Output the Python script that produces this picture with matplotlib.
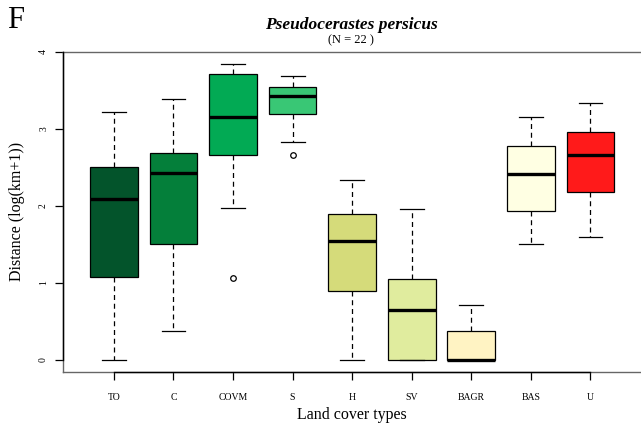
import matplotlib
matplotlib.use("Agg")
import matplotlib.pyplot as plt

categories = ["TO", "C", "COVM", "S", "H", "SV", "BAGR", "BAS", "U"]
whislo = [0.00, 0.38, 1.97, 2.83, 0.00, 0.00, 0.00, 1.50, 1.60]
q1     = [1.08, 1.50, 2.66, 3.20, 0.90, 0.00, 0.00, 1.94, 2.18]
med    = [2.09, 2.43, 3.15, 3.43, 1.55, 0.65, 0.00, 2.41, 2.66]
q3     = [2.50, 2.69, 3.72, 3.54, 1.89, 1.05, 0.38, 2.78, 2.96]
whishi = [3.22, 3.39, 3.84, 3.69, 2.34, 1.96, 0.71, 3.16, 3.34]
fliers = [[], [], [1.06], [2.66], [], [], [], [], []]
colors = ["#03542B", "#047F3A", "#02AA54", "#39C775", "#D5DB7A",
          "#E0EC9E", "#FFF3C3", "#FFFFE3", "#FF1A1A"]
yticks = [0, 1, 2, 3, 4]

plt.rcParams['font.family'] = ['Liberation Serif', 'DejaVu Serif']

W, H = 641, 425
fig = plt.figure(figsize=(W / 100, H / 100), dpi=100)
ax = fig.add_axes([62.7 / W, (H - 371.7) / H, 1 - 62.7 / W + 0.001, (371.7 - 52) / H])

stats = []
for i, c in enumerate(categories):
    stats.append(dict(label=c, whislo=whislo[i], q1=q1[i], med=med[i],
                      q3=q3[i], whishi=whishi[i], fliers=fliers[i]))
pos = list(range(1, len(categories) + 1))
res = ax.bxp(stats, positions=pos, widths=0.8, patch_artist=True,
             showfliers=True,
             boxprops=dict(edgecolor="black", linewidth=0.9),
             medianprops=dict(color="black", linewidth=2.4, solid_capstyle="butt"),
             whiskerprops=dict(color="black", linewidth=0.9, linestyle=(0, (4, 3))),
             capprops=dict(color="black", linewidth=0.9),
             capwidths=0.4,
             flierprops=dict(marker="o", markersize=4, markerfacecolor="none",
                             markeredgecolor="black", markeredgewidth=0.9))
for patch, col in zip(res["boxes"], colors):
    patch.set_facecolor(col)

xl = (0.14, 9.86)
yl = (-0.152, 4.0)
ax.set_xlim(*xl)
ax.set_ylim(*yl)

for s in ax.spines.values():
    s.set_color("#666666")
    s.set_linewidth(1.0)
ax.spines["right"].set_visible(False)
# R-style axis lines
ax.plot([xl[0], xl[0]], [0, 4], color="black", lw=1.0, clip_on=False, zorder=5)
ax.plot([1, 9], [yl[0], yl[0]], color="black", lw=1.0, clip_on=False, zorder=5)

ax.set_xticks(pos)
ax.set_xticklabels(categories, fontsize=7)
ax.set_yticks(yticks)
ax.set_yticklabels([str(v) for v in yticks], fontsize=7, rotation=90, va="center")
ax.tick_params(axis="both", length=6, width=0.9, color="black")
ax.tick_params(axis="x", pad=9)
ax.tick_params(axis="y", pad=4.5)

ax.set_xlabel("Land cover types", fontsize=11.5, labelpad=4)
ax.set_ylabel("Distance (log(km+1))", fontsize=11.5, labelpad=10)

fig.text(351 / W, 1 - 25 / H, "Pseudocerastes persicus", ha="center", va="center",
         fontsize=12.5, fontweight="bold", fontstyle="italic")
fig.text(351 / W, 1 - 40 / H, "(N = 22 )", ha="center", va="center", fontsize=9)
fig.text(16 / W, 1 - 21 / H, "F", ha="center", va="center", fontsize=22)

fig.savefig("out.png", dpi=100)
